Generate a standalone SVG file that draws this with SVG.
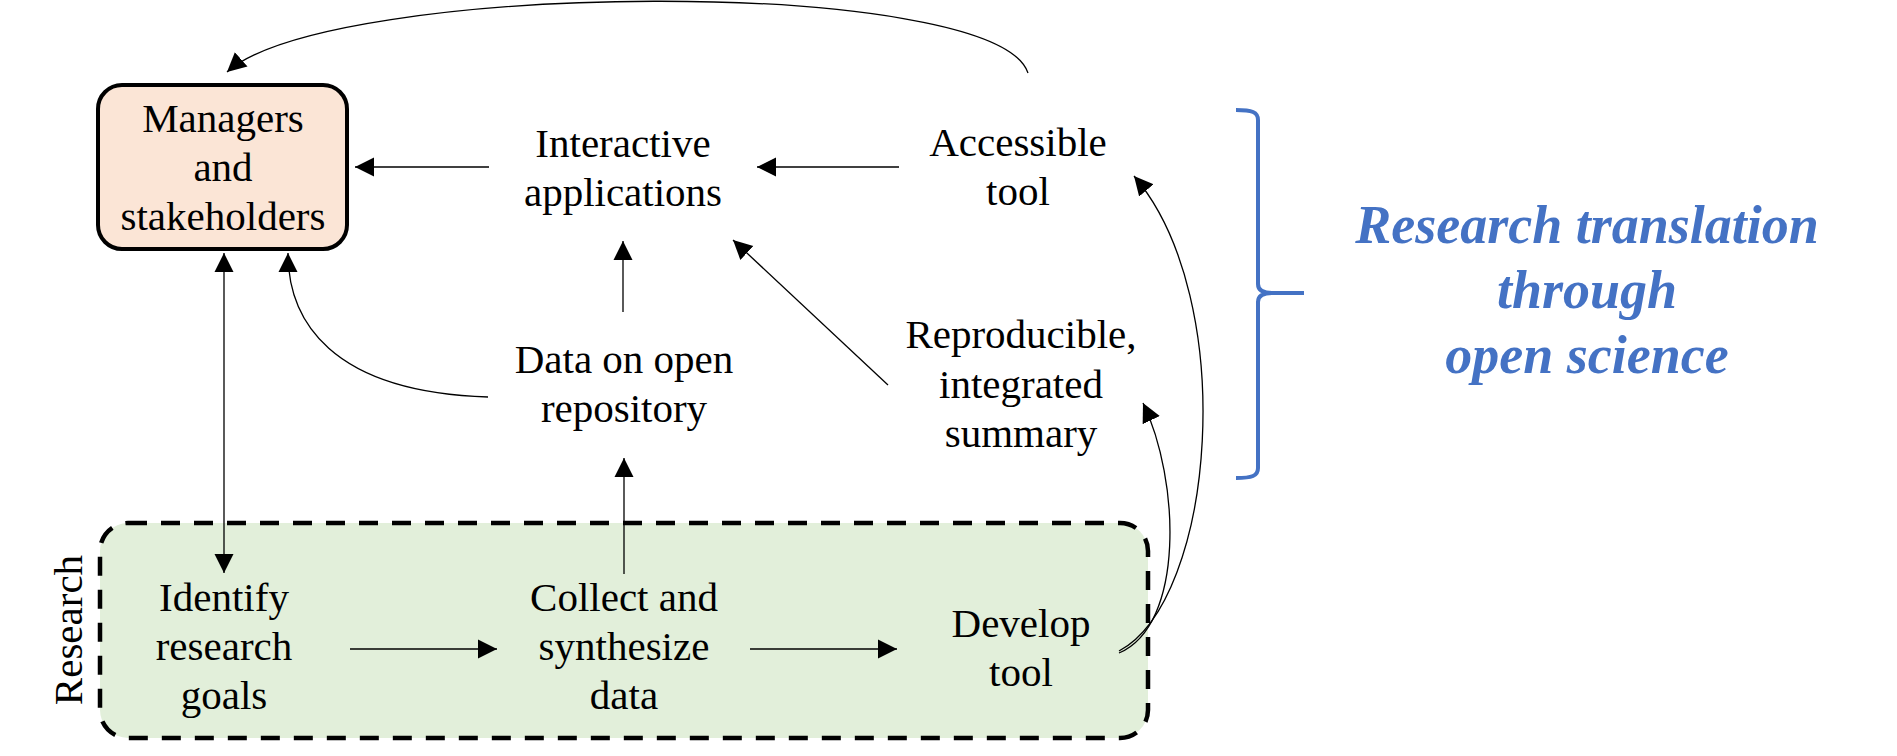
<svg xmlns="http://www.w3.org/2000/svg" width="1897" height="756" viewBox="0 0 1897 756">
  <style>
    .t { font-family: 'Liberation Serif', Tinos, 'Times New Roman', 'DejaVu Serif', serif; font-size: 41px; fill: #000; text-anchor: middle; }
    .blue { font-family: 'Liberation Serif', Tinos, 'Times New Roman', 'DejaVu Serif', serif; font-size: 54px; font-weight: bold; font-style: italic; fill: #4472C4; text-anchor: middle; }
    .c { fill: none; stroke: #000; stroke-width: 1.3; }
  </style>
  <defs>
    <marker id="ah" markerUnits="userSpaceOnUse" viewBox="0 0 20 20" refX="19" refY="10" markerWidth="20" markerHeight="20" orient="auto-start-reverse">
      <path d="M0,0.5 L19,10 L0,19.5 z" fill="#000"/>
    </marker>
  </defs>
  <rect width="1897" height="756" fill="#fff"/>

  <g id="research-group">
    <rect x="100" y="523" width="1048" height="215" rx="28" ry="28" fill="#E2EFDA" stroke="#000" stroke-width="4.5" stroke-dasharray="19 14"/>
    <text class="t" font-family="Liberation Serif, serif" font-size="42" transform="translate(82,630) rotate(-90)">Research</text>
  </g>

  <g id="managers" font-family="Liberation Serif, serif">
    <rect x="98" y="85" width="249" height="164" rx="24" ry="24" fill="#FBE5D6" stroke="#000" stroke-width="4"/>
    <text class="t" x="223" y="132">Managers</text>
    <text class="t" x="223" y="181">and</text>
    <text class="t" x="223" y="230">stakeholders</text>
  </g>

  <g id="interactive">
    <text class="t" x="623" y="157">Interactive</text>
    <text class="t" x="623" y="206">applications</text>
  </g>

  <g id="accessible">
    <text class="t" x="1018" y="156">Accessible</text>
    <text class="t" x="1018" y="205">tool</text>
  </g>

  <g id="data-repo">
    <text class="t" x="624" y="373">Data on open</text>
    <text class="t" x="624" y="422">repository</text>
  </g>

  <g id="summary">
    <text class="t" x="1021" y="348">Reproducible,</text>
    <text class="t" x="1021" y="398">integrated</text>
    <text class="t" x="1021" y="447">summary</text>
  </g>

  <g id="identify">
    <text class="t" x="224" y="611">Identify</text>
    <text class="t" x="224" y="660">research</text>
    <text class="t" x="224" y="709">goals</text>
  </g>

  <g id="collect">
    <text class="t" x="624" y="611">Collect and</text>
    <text class="t" x="624" y="660">synthesize</text>
    <text class="t" x="624" y="709">data</text>
  </g>

  <g id="develop">
    <text class="t" x="1021" y="637">Develop</text>
    <text class="t" x="1021" y="686">tool</text>
  </g>

  <g id="translation">
    <path d="M1236,110 C1252,110 1258,112 1258,120 L1258,284 C1258,290 1262,293 1272,293 L1304,293 M1272,293 C1262,293 1258,296 1258,302 L1258,468 C1258,476 1252,478 1236,478" fill="none" stroke="#4472C4" stroke-width="4"/>
    <text class="blue" x="1587" y="243">Research translation</text>
    <text class="blue" x="1587" y="308">through</text>
    <text class="blue" x="1587" y="373">open science</text>
  </g>

  <g id="connectors">
    <path class="c" d="M489,167 L355,167" marker-end="url(#ah)"/>
    <path class="c" d="M899,167 L757,167" marker-end="url(#ah)"/>
    <path class="c" d="M623,312 L623,241" marker-end="url(#ah)"/>
    <path class="c" d="M888,385 L733,240" marker-end="url(#ah)"/>
    <path class="c" d="M624,574 L624,458" marker-end="url(#ah)"/>
    <path class="c" d="M350,649 L497,649" marker-end="url(#ah)"/>
    <path class="c" d="M750,649 L897,649" marker-end="url(#ah)"/>
    <path class="c" d="M224,253 L224,573" marker-start="url(#ah)" marker-end="url(#ah)"/>
    <path class="c" d="M488,397 C330,392 288,320 288,253" marker-end="url(#ah)"/>
    <path class="c" d="M1028,73 C995,-25 330,-20 227,72" marker-end="url(#ah)"/>
    <path class="c" d="M1119,651 C1215,600 1240,300 1134,176" marker-end="url(#ah)"/>
    <path class="c" d="M1119,653 C1185,625 1180,480 1143,403" marker-end="url(#ah)"/>
  </g>
</svg>
